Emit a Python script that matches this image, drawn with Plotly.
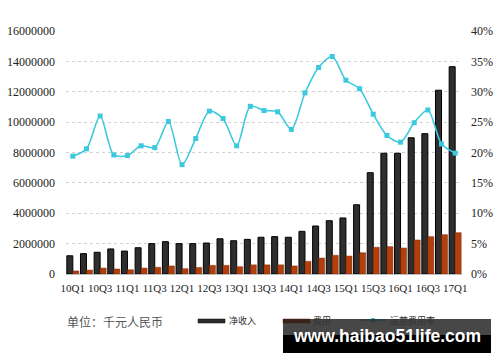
import plotly.graph_objects as go

quarters = ["10Q1","10Q2","10Q3","10Q4","11Q1","11Q2","11Q3","11Q4","12Q1","12Q2","12Q3","12Q4",
            "13Q1","13Q2","13Q3","13Q4","14Q1","14Q2","14Q3","14Q4","15Q1","15Q2","15Q3","15Q4",
            "16Q1","16Q2","16Q3","16Q4","17Q1"]
net_revenue = [1200000,1340000,1430000,1650000,1510000,1730000,2000000,2130000,2000000,2000000,2040000,2320000,
               2190000,2280000,2420000,2460000,2420000,2810000,3160000,3510000,3690000,4560000,6670000,7950000,
               7950000,8970000,9240000,12100000,13650000]
expenses = [200000,260000,390000,330000,280000,390000,440000,530000,350000,430000,570000,570000,
            480000,600000,600000,600000,530000,830000,1050000,1230000,1180000,1400000,1760000,1800000,
            1710000,2240000,2460000,2590000,2720000]
op_expense_rate = [19.4,20.6,26.0,19.6,19.5,21.1,20.8,25.1,18.0,22.3,26.8,25.6,
                   21.1,27.6,26.9,26.7,23.8,29.8,34.0,35.8,31.9,30.5,26.3,22.8,
                   21.7,24.9,27.0,21.4,19.9]
left_ticks = [0,2000000,4000000,6000000,8000000,10000000,12000000,14000000,16000000]
right_ticks = [0,5,10,15,20,25,30,35,40]
x_tick_labels = quarters[::2]

tick_font = dict(family="Liberation Serif, DejaVu Serif, serif", size=12, color="#222222")
x_tick_font = dict(family="Liberation Serif, DejaVu Serif, serif", size=11, color="#222222")

fig = go.Figure()
fig.add_trace(go.Bar(x=quarters, y=net_revenue, name="净收入",
                     marker=dict(color="#2e2e2e", line=dict(color="#000000", width=1))))
fig.add_trace(go.Bar(x=quarters, y=expenses, name="费用",
                     marker=dict(color="#b3400c", line=dict(color="#7a2a06", width=0.5))))
fig.add_trace(go.Scatter(x=quarters, y=op_expense_rate, name="运营费用率", yaxis="y2",
                         mode="lines+markers", line=dict(color="#3cc9de", width=1.6, shape="spline", smoothing=0.8),
                         marker=dict(symbol="square", size=5, color="#3cc9de")))

fig.update_layout(
    width=500, height=362,
    margin=dict(l=66, r=38, t=31, b=88, autoexpand=False),
    paper_bgcolor="white", plot_bgcolor="white",
    showlegend=False,
    barmode="group", bargap=0.12, bargroupgap=0.0,
    xaxis=dict(type="category", range=[-0.5, len(quarters) - 0.5], tickmode="array",
               tickvals=x_tick_labels, ticktext=x_tick_labels,
               tickfont=x_tick_font, showgrid=False, showline=True, linecolor="#bfbfbf", linewidth=1,
               ticks="", tickangle=0, automargin=False, ticklabelstandoff=4),
    yaxis=dict(range=[0,16000000], tickvals=left_ticks, ticktext=[str(v) for v in left_ticks],
               tickfont=tick_font, showgrid=True, gridcolor="#d0d0d0", griddash="dot", gridwidth=1,
               zeroline=False, showline=False, ticks="", automargin=False, ticklabelstandoff=10),
    yaxis2=dict(range=[0,40], overlaying="y", side="right", tickvals=right_ticks,
                ticktext=[f"{v}%" for v in right_ticks], tickfont=tick_font, showgrid=False,
                zeroline=False, showline=False, ticks="", automargin=False, ticklabelstandoff=8),
)

# caption and custom legend
fig.add_annotation(xref="paper", yref="paper", x=-0.003, y=-0.195, xanchor="left", yanchor="middle",
                   text="单位：千元人民币", showarrow=False,
                   font=dict(family="Noto Sans CJK SC", size=12, color="#555555"))

def px_x(px):
    return (px - 66) / (462 - 66)

def px_y(py):
    return (274 - py) / (274 - 31)

legend_font = dict(family="Noto Sans CJK SC", size=9, color="#333333")
fig.add_shape(type="rect", xref="paper", yref="paper", x0=px_x(198), x1=px_x(225), y0=px_y(323), y1=px_y(319),
              fillcolor="#2e2e2e", line=dict(color="#000000", width=0.5))
fig.add_annotation(xref="paper", yref="paper", x=px_x(227), y=px_y(320), xanchor="left", yanchor="middle",
                   text="净收入", showarrow=False, font=legend_font)
fig.add_shape(type="rect", xref="paper", yref="paper", x0=px_x(283), x1=px_x(310), y0=px_y(323), y1=px_y(319),
              fillcolor="#b3400c", line=dict(color="#7a2a06", width=0.5))
fig.add_annotation(xref="paper", yref="paper", x=px_x(311), y=px_y(320), xanchor="left", yanchor="middle",
                   text="费用", showarrow=False, font=legend_font)
fig.add_shape(type="line", xref="paper", yref="paper", x0=px_x(360), x1=px_x(386), y0=px_y(320), y1=px_y(320),
              line=dict(color="#3cc9de", width=1.5))
fig.add_shape(type="rect", xref="paper", yref="paper", x0=px_x(371), x1=px_x(375), y0=px_y(322), y1=px_y(318),
              fillcolor="#3cc9de", line=dict(width=0))
fig.add_annotation(xref="paper", yref="paper", x=px_x(388), y=px_y(320), xanchor="left", yanchor="middle",
                   text="运营费用率", showarrow=False, font=legend_font)

# watermark
fig.add_shape(type="rect", xref="paper", yref="paper", x0=px_x(283), x1=px_x(491), y0=px_y(335), y1=px_y(319),
              fillcolor="rgba(30,30,30,0.82)", line=dict(width=0))
fig.add_shape(type="rect", xref="paper", yref="paper", x0=px_x(283), x1=px_x(491), y0=px_y(353), y1=px_y(335),
              fillcolor="#000000", line=dict(width=0))
fig.add_annotation(xref="paper", yref="paper", x=px_x(387), y=px_y(336), xanchor="center", yanchor="middle",
                   text="<b>www.haibao51life.com</b>", showarrow=False,
                   font=dict(family="Liberation Sans, Arial, sans-serif", size=17.5, color="#ffffff"))

fig.write_html("out.html", config={"displayModeBar": False},
               post_script="document.body.style.margin='0';document.body.style.overflow='hidden';")
